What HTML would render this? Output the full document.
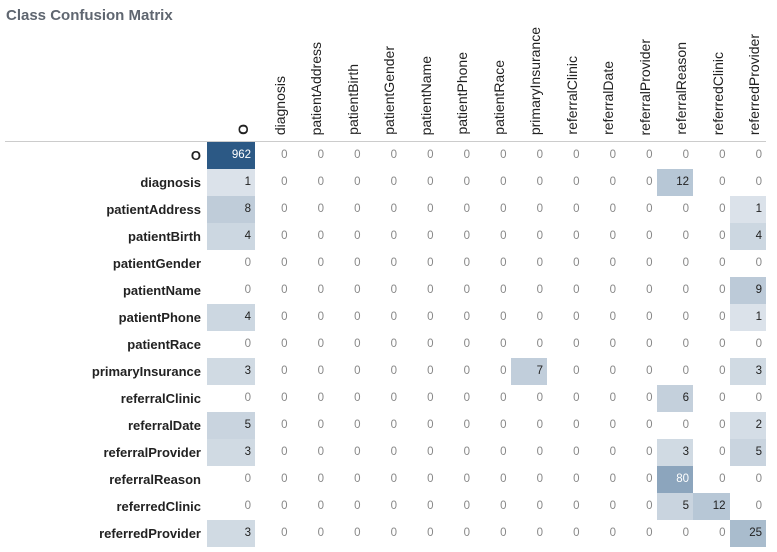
<!DOCTYPE html>
<html><head><meta charset="utf-8"><style>
body{margin:0;width:777px;height:552px;background:#fff;font-family:"Liberation Sans",sans-serif;position:relative;overflow:hidden}
.t{position:absolute;left:6px;top:7px;font-size:15px;font-weight:bold;color:#5f6670}
.h{position:absolute;bottom:417px;writing-mode:vertical-rl;transform:rotate(180deg);font-size:14px;color:#222;line-height:15px;white-space:nowrap}
.line{position:absolute;left:5px;top:141px;width:761px;height:1px;background:#ccc}
.rl{position:absolute;right:576px;font-size:13px;font-weight:bold;color:#222;height:27px;line-height:27px;white-space:nowrap}
.c{position:absolute;height:27px;line-height:27px;text-align:right;font-size:11.5px;box-sizing:border-box;padding-right:4px;color:#888}
</style></head><body>
<div class="t">Class Confusion Matrix</div>
<div class="line"></div>
<div id="m"></div>
<script>
const L=["O","diagnosis","patientAddress","patientBirth","patientGender","patientName","patientPhone","patientRace","primaryInsurance","referralClinic","referralDate","referralProvider","referralReason","referredClinic","referredProvider"];
const nz={"0,0":962,"1,0":1,"1,12":12,"2,0":8,"2,14":1,"3,0":4,"3,14":4,"5,14":9,"6,0":4,"6,14":1,"8,0":3,"8,8":7,"8,14":3,"9,12":6,"10,0":5,"10,14":2,"11,0":3,"11,12":3,"11,14":5,"12,12":80,"13,12":5,"13,13":12,"14,0":3,"14,14":25};
const col={962:"#2c5985",80:"#8ca5bd",25:"#a9bccd",12:"#b7c7d6",9:"#bccad8",8:"#bfccd9",7:"#c1cedb",6:"#c4d0dc",5:"#c9d4df",4:"#ccd7e1",3:"#d0dae3",2:"#d4dde6",1:"#dbe2ea"};
function cx(j){return j==0?207:255+(j-1)*36.5}
function cw(j){return j==0?48:36.5}
let h="";
for(let j=0;j<15;j++){h+=`<div class="h" style="left:${cx(j)+cw(j)-19}px${j==0?';font-weight:bold':''}">${L[j]}</div>`;}
for(let i=0;i<15;i++){const y=142+i*27;
h+=`<div class="rl" style="top:${y}px">${L[i]}</div>`;
for(let j=0;j<15;j++){const v=nz[i+","+j]||0;let st=`left:${cx(j)}px;top:${y}px;width:${cw(j)}px;`;
if(v){st+=`background:${col[v]};color:${v>=80?"#fff":"#222"};`}
h+=`<div class="c" style="${st}">${v}</div>`;}}
document.getElementById("m").innerHTML=h;
</script>
</body></html>
